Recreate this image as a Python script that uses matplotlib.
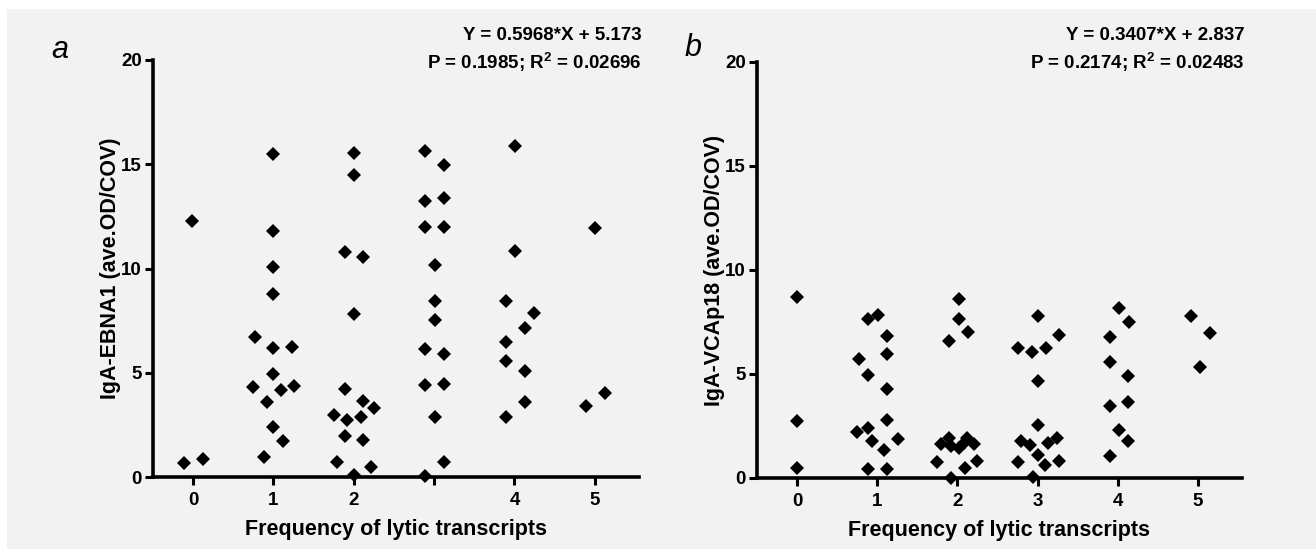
import matplotlib
matplotlib.use("Agg")
import matplotlib.pyplot as plt
from matplotlib.patches import Rectangle

# ---------------- data ----------------
a_x = [-0.015, -0.12, 0.12,
       1.0, 1.0, 1.0, 1.0, 0.775, 1.0, 1.23, 1.0, 0.75, 1.09, 1.26, 0.92, 1.0, 1.115, 0.88,
       2.0, 2.0, 1.885, 2.12, 2.0, 1.885, 2.12, 2.25, 1.75, 1.92, 2.09, 1.885, 2.12, 1.79, 2.22, 2.0,
       2.89, 3.12, 2.89, 3.12, 2.89, 3.12, 3.01, 3.01, 3.01, 2.89, 3.12, 2.89, 3.12, 3.01, 3.12, 2.89,
       4.01, 4.01, 3.89, 4.24, 4.125, 3.89, 3.89, 4.125, 4.125, 3.89,
       5.0, 5.13, 4.89]
a_y = [12.28, 0.66, 0.85,
       15.48, 11.81, 10.07, 8.76, 6.70, 6.17, 6.25, 4.93, 4.30, 4.17, 4.38, 3.61, 2.38, 1.73, 0.94,
       15.52, 14.48, 10.78, 10.57, 7.80, 4.22, 3.66, 3.29, 2.97, 2.73, 2.89, 1.97, 1.77, 0.73, 0.49, 0.08,
       15.65, 14.96, 13.25, 13.40, 11.98, 11.98, 10.17, 8.46, 7.53, 6.12, 5.88, 4.41, 4.46, 2.89, 0.70, 0.06,
       15.88, 10.85, 8.46, 7.85, 7.13, 6.49, 5.58, 5.10, 3.61, 2.86,
       11.93, 4.01, 3.41]

b_x = [0.0, 0.0, 0.0,
       0.88, 1.01, 1.125, 1.125, 0.77, 0.89, 1.125, 1.125, 0.89, 0.75, 1.26, 0.93, 1.09, 0.89, 1.125,
       2.02, 2.02, 2.13, 1.895, 1.895, 1.80, 1.92, 2.02, 2.125, 2.21, 2.08, 1.75, 2.10, 2.25, 1.92,
       3.01, 3.27, 2.76, 2.93, 3.10, 3.01, 3.01, 2.79, 2.91, 3.125, 3.24, 3.01, 3.095, 2.76, 3.27, 2.94,
       4.02, 3.90, 4.14, 3.90, 4.125, 4.125, 3.90, 4.02, 4.125, 3.90,
       4.91, 5.145, 5.03]
b_y = [8.69, 2.72, 0.46,
       7.63, 7.83, 6.85, 5.95, 5.71, 4.97, 4.27, 2.77, 2.38, 2.19, 1.89, 1.76, 1.36, 0.43, 0.43,
       8.61, 7.65, 7.04, 6.59, 1.92, 1.65, 1.52, 1.44, 1.92, 1.65, 1.68, 0.75, 0.48, 0.80, 0.0,
       7.81, 6.88, 6.24, 6.08, 6.24, 4.64, 2.56, 1.76, 1.60, 1.68, 1.92, 1.12, 0.64, 0.75, 0.80, 0.05,
       8.16, 6.77, 7.52, 5.57, 4.88, 3.65, 3.47, 2.32, 1.79, 1.07,
       7.79, 6.99, 5.36]

x_ticks = [0, 1, 2, 3, 4, 5]
a_xticklabels = ["0", "1", "2", "", "4", "5"]
b_xticklabels = ["0", "1", "2", "3", "4", "5"]
y_ticks = [0, 5, 10, 15, 20]

x_label = "Frequency of lytic transcripts"
a_ylabel = "IgA-EBNA1 (ave.OD/COV)"
b_ylabel = "IgA-VCAp18 (ave.OD/COV)"
a_eq = ["Y = 0.5968*X + 5.173", r"P = 0.1985; R$^\mathbf{2}$ = 0.02696"]
b_eq = ["Y = 0.3407*X + 2.837", r"P = 0.2174; R$^\mathbf{2}$ = 0.02483"]

# ---------------- style ----------------
FAM = ["Liberation Sans Narrow", "Liberation Sans", "DejaVu Sans"]
plt.rcParams["font.family"] = FAM
plt.rcParams["mathtext.fontset"] = "custom"
plt.rcParams["mathtext.bf"] = "Liberation Sans:bold"
plt.rcParams["mathtext.rm"] = "Liberation Sans"

W, H = 1316, 549
fig = plt.figure(figsize=(W / 100, H / 100), dpi=100)
fig.patch.set_facecolor("white")
fig.patches.append(Rectangle((7 / W, 0), 1 - 7 / W, 1 - 9 / H, transform=fig.transFigure,
                             facecolor="#f2f2f2", edgecolor="none", zorder=-10))

def px_axes(l, r, b, t):
    return [l / W, (H - b) / H, (r - l) / W, (b - t) / H]

def draw(rect, xs, ys, xtl, ylab, eq, letter, letter_pos, eq_x):
    ax = fig.add_axes(rect)
    ax.set_facecolor("none")
    ax.plot(xs, ys, linestyle="none", marker="D", ms=7.0, color="black",
            markeredgewidth=0, clip_on=False, zorder=5)
    ax.set_xlim(-0.5, 5.55)
    ax.set_ylim(0, 20)
    ax.set_xticks(x_ticks)
    ax.set_xticklabels(xtl)
    ax.set_yticks(y_ticks)
    for s in ["top", "right"]:
        ax.spines[s].set_visible(False)
    for s in ["left", "bottom"]:
        ax.spines[s].set_linewidth(2.6)
    ax.tick_params(direction="out", length=6, width=2.2, labelsize=13.5, pad=2)
    ax.tick_params(axis="x", pad=5)
    for lab in ax.get_xticklabels() + ax.get_yticklabels():
        lab.set_fontweight("bold")
    ax.set_xlabel(x_label, fontsize=15.5, fontweight="bold", labelpad=7)
    ax.set_ylabel(ylab, fontsize=15.5, fontweight="bold", labelpad=0)
    fig.text(eq_x / W, (H - 35) / H, eq[0], ha="right", va="center",
             fontsize=13.5, fontweight="bold")
    fig.text(eq_x / W, (H - 62) / H, eq[1], ha="right", va="center",
             fontsize=13.5, fontweight="bold")
    fig.text(letter_pos[0] / W, (H - letter_pos[1]) / H, letter, ha="center", va="center",
             fontsize=22, style="italic", family=["Liberation Sans", "DejaVu Sans"])
    return ax

draw(px_axes(153, 639, 477, 60), a_x, a_y, a_xticklabels, a_ylabel, a_eq, "a", (60, 50), 642)
draw(px_axes(757, 1242, 478, 62), b_x, b_y, b_xticklabels, b_ylabel, b_eq, "b", (693, 48), 1245)

fig.savefig("out.png", dpi=100, facecolor=fig.get_facecolor())
